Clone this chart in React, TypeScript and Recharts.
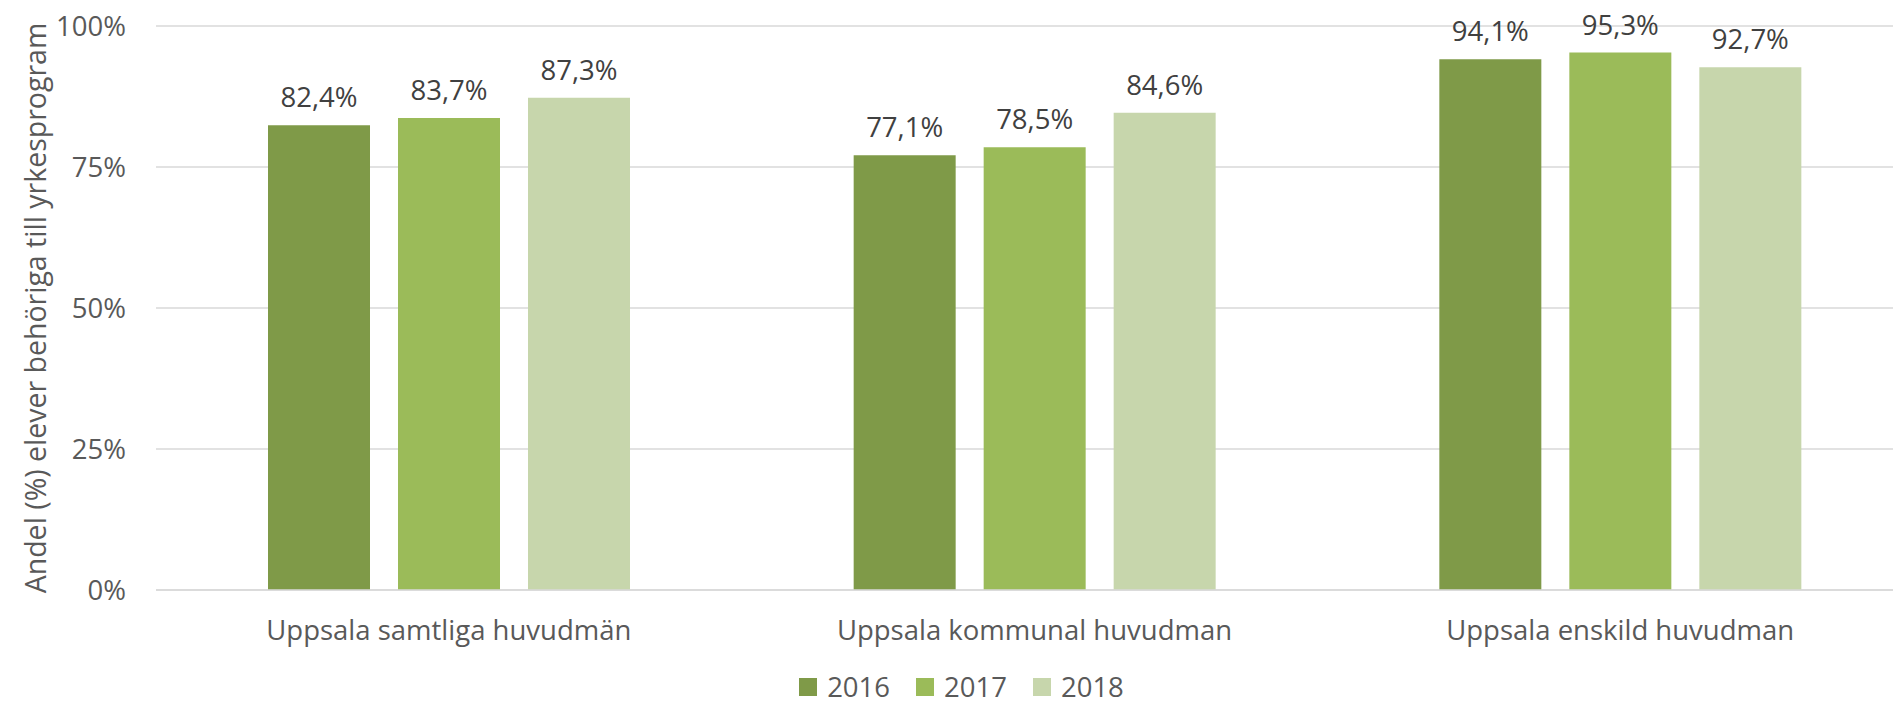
import { Bar, BarChart, CartesianGrid, LabelList, Legend, XAxis, YAxis } from 'recharts'

const categories = ['Uppsala samtliga huvudmän', 'Uppsala kommunal huvudman', 'Uppsala enskild huvudman']
const years = ['2016', '2017', '2018']
const values2016 = [82.4, 77.1, 94.1]
const values2017 = [83.7, 78.5, 95.3]
const values2018 = [87.3, 84.6, 92.7]
const yTicks = [0, 25, 50, 75, 100]
const yAxisTitle = 'Andel (%) elever behöriga till yrkesprogram'

const colors = ['#7F9A48', '#9BBB59', '#C7D6AC']
const FONT = '"Open Sans", sans-serif'
const FS = 27.5

const data = categories.map((name, i) => ({
  name,
  [years[0]]: values2016[i],
  [years[1]]: values2017[i],
  [years[2]]: values2018[i],
}))

const pct = (v: any) => `${String(v).replace('.', ',')}%`

function LegendContent({ payload }: any) {
  return (
    <div
      style={{
        height: 28,
        lineHeight: '28px',
        display: 'flex',
        justifyContent: 'center',
        alignItems: 'center',
        fontFamily: FONT,
        fontSize: FS,
        color: '#595959',
        paddingLeft: 10,
      }}
    >
      {(payload || []).map((p: any) => (
        <div key={p.value} style={{ display: 'flex', alignItems: 'center', margin: '0 13px' }}>
          <span style={{ width: 18, height: 18, background: p.color, marginRight: 10 }} />
          <span>{p.value}</span>
        </div>
      ))}
    </div>
  )
}

export default function App() {
  return (
    <div style={{ position: 'fixed', left: 0, top: 0, width: 1893, height: 706, overflow: 'hidden', background: '#fff' }}>
      <BarChart
        width={1920}
        height={706}
        data={data}
        margin={{ top: 26, right: 7, bottom: 0, left: 0 }}
        barCategoryGap={112}
        barGap={28}
      >
        <CartesianGrid vertical={false} stroke="#D9D9D9" strokeWidth={1.5} />
        <XAxis
          dataKey="name"
          height={88}
          tickLine={false}
          tickSize={0}
          tickMargin={30}
          axisLine={{ stroke: '#D9D9D9', strokeWidth: 1.5 }}
          tick={{ fill: '#595959', fontSize: FS, fontFamily: FONT }}
        />
        <YAxis
          width={156}
          domain={[0, 100]}
          ticks={yTicks}
          tickFormatter={(v) => `${v}%`}
          axisLine={false}
          tickLine={false}
          tickSize={0}
          tickMargin={30}
          tick={{ fill: '#595959', fontSize: FS, fontFamily: FONT }}
          label={{
            value: yAxisTitle,
            angle: -90,
            position: 'center',
            dx: -42,
            fill: '#595959',
            fontSize: 28.5,
            fontFamily: FONT,
          }}
        />
        <Legend verticalAlign="bottom" content={<LegendContent />} wrapperStyle={{ bottom: 5 }} />
        {years.map((y, i) => (
          <Bar key={y} dataKey={y} fill={colors[i]} isAnimationActive={false}>
            <LabelList
              dataKey={y}
              position="top"
              offset={18}
              formatter={pct}
              style={{ fill: '#404040', fontSize: FS, fontFamily: FONT }}
            />
          </Bar>
        ))}
      </BarChart>
    </div>
  )
}
